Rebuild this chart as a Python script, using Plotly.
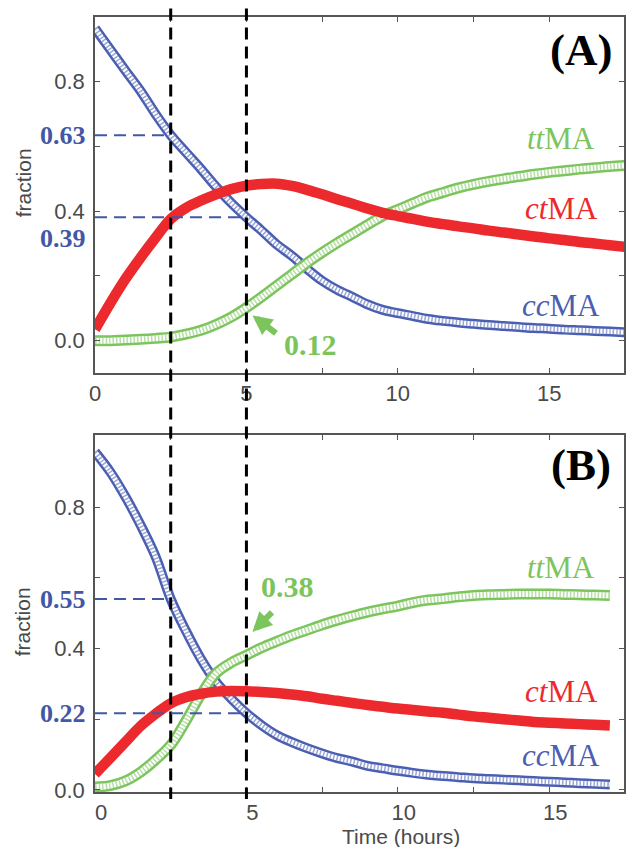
import plotly.graph_objects as go

# ---------------- data ----------------
time_a = [i * 0.5 for i in range(36)]          # 0 .. 17.5 h
cc_a = [0.965, 0.90, 0.835, 0.772, 0.70, 0.635, 0.582, 0.53, 0.475, 0.425,
        0.381, 0.34, 0.297, 0.262, 0.222, 0.185, 0.157, 0.135, 0.112, 0.095,
        0.085, 0.076, 0.067, 0.061, 0.056, 0.052, 0.048, 0.045, 0.042, 0.039,
        0.037, 0.034, 0.032, 0.030, 0.028, 0.026]
ct_a = [0.035, 0.115, 0.19, 0.256, 0.318, 0.376, 0.41, 0.433, 0.452, 0.468,
        0.479, 0.484, 0.485, 0.478, 0.466, 0.452, 0.437, 0.423, 0.408, 0.395,
        0.385, 0.376, 0.367, 0.36, 0.353, 0.347, 0.34, 0.334, 0.328, 0.322,
        0.316, 0.311, 0.305, 0.30, 0.295, 0.29]
tt_a = [0.0, 0.0, 0.002, 0.004, 0.007, 0.011, 0.02, 0.032, 0.05, 0.073,
        0.102, 0.135, 0.17, 0.205, 0.24, 0.272, 0.302, 0.33, 0.358, 0.385,
        0.405, 0.425, 0.444, 0.458, 0.472, 0.483, 0.492, 0.50, 0.507, 0.514,
        0.52, 0.525, 0.53, 0.534, 0.538, 0.541]

time_b = [i * 0.5 for i in range(35)]          # 0 .. 17 h
cc_b = [0.956, 0.90, 0.83, 0.75, 0.66, 0.54, 0.45, 0.37, 0.305, 0.258,
        0.217, 0.183, 0.155, 0.135, 0.118, 0.103, 0.09, 0.08, 0.068, 0.061,
        0.054, 0.048, 0.043, 0.039, 0.036, 0.033, 0.031, 0.029, 0.027, 0.025,
        0.023, 0.021, 0.019, 0.017, 0.015]
ct_b = [0.045, 0.09, 0.135, 0.18, 0.215, 0.245, 0.262, 0.272, 0.278, 0.28,
        0.279, 0.277, 0.274, 0.27, 0.265, 0.258, 0.252, 0.246, 0.24, 0.235,
        0.23, 0.226, 0.222, 0.218, 0.213, 0.208, 0.204, 0.20, 0.196, 0.192,
        0.19, 0.188, 0.186, 0.184, 0.182]
tt_b = [0.008, 0.012, 0.025, 0.05, 0.085, 0.127, 0.195, 0.27, 0.33, 0.36,
        0.381, 0.402, 0.42, 0.437, 0.452, 0.467, 0.48, 0.492, 0.503, 0.512,
        0.52, 0.53, 0.537, 0.541, 0.546, 0.55, 0.552, 0.553, 0.554, 0.554,
        0.554, 0.553, 0.552, 0.551, 0.55]

marked_times = [2.5, 5.0]
labels_a = ["0.63", "0.39"]
labels_b = ["0.55", "0.22"]
tt_note_a = "0.12"
tt_note_b = "0.38"

x_ticks = [0, 2.5, 5, 7.5, 10, 12.5, 15]
x_ticktext = ["0", "", "5", "", "10", "", "15"]
y_ticks = [0, 0.2, 0.4, 0.6, 0.8]
y_ticktext = ["0.0", "", "0.4", "", "0.8"]

# ---------------- style ----------------
BLUE = "#4a5fb2"
BLUE_TXT = "#4257a6"
RED = "#ec2a2e"
GREEN = "#7cc45c"
GREEN_TXT = "#7cc45c"
AX = "#555555"
TXT = "#4a4a4a"
SERIF = "Liberation Serif, Times New Roman, serif"
SANS = "Liberation Sans, Arial, sans-serif"

fig = go.Figure()


def tube(x, y, color, outer, inner, xa, ya, hatch):
    fig.add_trace(go.Scatter(x=x, y=y, mode="lines", xaxis=xa, yaxis=ya,
                             line=dict(color=color, width=outer, shape="spline"),
                             hoverinfo="skip", showlegend=False))
    fig.add_trace(go.Scatter(x=x, y=y, mode="lines", xaxis=xa, yaxis=ya,
                             line=dict(color="white", width=inner, shape="spline"),
                             hoverinfo="skip", showlegend=False))
    fig.add_trace(go.Scatter(x=x, y=y, mode="lines", xaxis=xa, yaxis=ya,
                             line=dict(color=color, width=inner, shape="spline",
                                       dash=hatch),
                             opacity=0.55, hoverinfo="skip", showlegend=False))


def solid(x, y, color, w, xa, ya):
    fig.add_trace(go.Scatter(x=x, y=y, mode="lines", xaxis=xa, yaxis=ya,
                             line=dict(color=color, width=w, shape="spline"),
                             hoverinfo="skip", showlegend=False))


for (t, cc, ct, tt, xa, ya) in [(time_a, cc_a, ct_a, tt_a, "x", "y"),
                                (time_b, cc_b, ct_b, tt_b, "x2", "y2")]:
    tube(t, cc, BLUE, 10, 5, xa, ya, "1.5px,2px")
    tube(t, tt, GREEN, 11, 6, xa, ya, "1.5px,2px")
    solid(t, ct, RED, 10.5, xa, ya)

# ---------------- layout ----------------
W, H = 630, 847
ML, MR, MT, MB = 95, 4, 17, 55
PH = H - MT - MB
PW = W - ML - MR
top_dom = [(H - MB - 373) / PH, 1.0]
bot_dom = [0.0, (H - MB - 435) / PH]

axis_common = dict(showline=True, linecolor=AX, linewidth=1.5, mirror="ticks",
                   ticks="inside", ticklen=5, tickwidth=1, tickcolor=AX,
                   showgrid=False, zeroline=False,
                   tickfont=dict(family=SANS, size=22, color=TXT))

fig.update_layout(
    width=W, height=H, margin=dict(l=ML, r=MR, t=MT, b=MB),
    paper_bgcolor="white", plot_bgcolor="white", showlegend=False,
    xaxis=dict(domain=[0, 1], anchor="y", range=[0, PW / 30.4],
               tickvals=x_ticks, ticktext=x_ticktext, **axis_common),
    yaxis=dict(domain=top_dom, anchor="x", range=[-0.1, 1.0],
               tickvals=y_ticks, ticktext=y_ticktext, ticklabelstandoff=4,
               **axis_common),
    xaxis2=dict(domain=[0, 1], anchor="y2", range=[0, PW / 30.4],
                tickvals=x_ticks, ticktext=x_ticktext, ticklabelshift=6,
                **axis_common),
    yaxis2=dict(domain=bot_dom, anchor="x2", range=[-0.006, 1.004],
                tickvals=y_ticks, ticktext=y_ticktext, ticklabelstandoff=4,
                **axis_common),
)

shapes = []
# vertical black dashed marker lines through both panels
for tm in marked_times:
    shapes.append(dict(type="line", xref="x", yref="paper", x0=tm, x1=tm,
                       y0=1.011, y1=-0.009,
                       line=dict(color="black", width=3, dash="12px,7px")))


def cc_at(times, vals, tm):
    return vals[times.index(tm)]


# horizontal blue dashed reading lines
for (times, vals, xa, ya) in [(time_a, cc_a, "x", "y"), (time_b, cc_b, "x2", "y2")]:
    for tm in marked_times:
        v = cc_at(times, vals, tm)
        shapes.append(dict(type="line", xref=xa, yref=ya, x0=0, x1=tm, y0=v, y1=v,
                           line=dict(color=BLUE_TXT, width=2, dash="12px,7px")))
fig.update_layout(shapes=shapes)

ann = []
lab_x = (88 - ML) / PW


def blue_label(ya, y, txt):
    ann.append(dict(xref="paper", yref=ya, x=lab_x, y=y, text="<b>%s</b>" % txt,
                    showarrow=False, xanchor="right", yanchor="middle",
                    font=dict(family=SERIF, size=26, color=BLUE_TXT)))


blue_label("y", cc_at(time_a, cc_a, 2.5), labels_a[0])
blue_label("y", 0.316, labels_a[1])
blue_label("y2", cc_at(time_b, cc_b, 2.5), labels_b[0])
blue_label("y2", cc_at(time_b, cc_b, 5.0), labels_b[1])

# green notes with arrows
ann.append(dict(xref="x", yref="y", x=7.1, y=-0.012, text="<b>%s</b>" % tt_note_a,
                showarrow=False, xanchor="center", yanchor="middle",
                font=dict(family=SERIF, size=30, color=GREEN_TXT)))
ann.append(dict(xref="x", yref="y", x=5.2, y=0.078, ax=25, ay=19, text="",
                showarrow=True, arrowhead=2, arrowsize=0.65, arrowwidth=6,
                arrowcolor=GREEN))
ann.append(dict(xref="x2", yref="y2", x=6.35, y=0.574, text="<b>%s</b>" % tt_note_b,
                showarrow=False, xanchor="center", yanchor="middle",
                font=dict(family=SERIF, size=30, color=GREEN_TXT)))
ann.append(dict(xref="x2", yref="y2", x=5.2, y=0.447, ax=21, ay=-21, text="",
                showarrow=True, arrowhead=2, arrowsize=0.65, arrowwidth=6,
                arrowcolor=GREEN))

# series labels
lab_specs = [("y", "x", [(0.110, BLUE, "<i>cc</i>MA"), (0.409, RED, "<i>ct</i>MA"),
                         (0.626, GREEN, "<i>tt</i>MA")]),
             ("y2", "x2", [(0.096, BLUE, "<i>cc</i>MA"), (0.277, RED, "<i>ct</i>MA"),
                           (0.630, GREEN, "<i>tt</i>MA")])]
for ya, xa, items in lab_specs:
    for v, c, txt in items:
        ann.append(dict(xref=xa, yref=ya, x=15.4, y=v, text=txt, showarrow=False,
                        xanchor="center", yanchor="middle",
                        font=dict(family=SERIF, size=31, color=c)))

# panel letters
ann.append(dict(xref="x", yref="y", x=16.05, y=0.898, text="<b>(A)</b>",
                showarrow=False, xanchor="center", yanchor="middle",
                font=dict(family=SERIF, size=45, color="black")))
ann.append(dict(xref="x2", yref="y2", x=16.05, y=0.919, text="<b>(B)</b>",
                showarrow=False, xanchor="center", yanchor="middle",
                font=dict(family=SERIF, size=45, color="black")))

# axis titles
fy_x = (23 - ML) / PW
for ya, yv in [("y", 0.487), ("y2", 0.475)]:
    ann.append(dict(xref="paper", yref=ya, x=fy_x, y=yv, text="fraction",
                    textangle=-90, showarrow=False, xanchor="center",
                    yanchor="middle",
                    font=dict(family=SANS, size=21, color=TXT)))
ann.append(dict(xref="paper", yref="paper", x=(402 - ML) / PW,
                y=(H - MB - 836) / PH, text="Time (hours)", showarrow=False,
                xanchor="center", yanchor="middle",
                font=dict(family=SANS, size=21, color=TXT)))

fig.update_layout(annotations=ann)

fig.write_html("out.html")
